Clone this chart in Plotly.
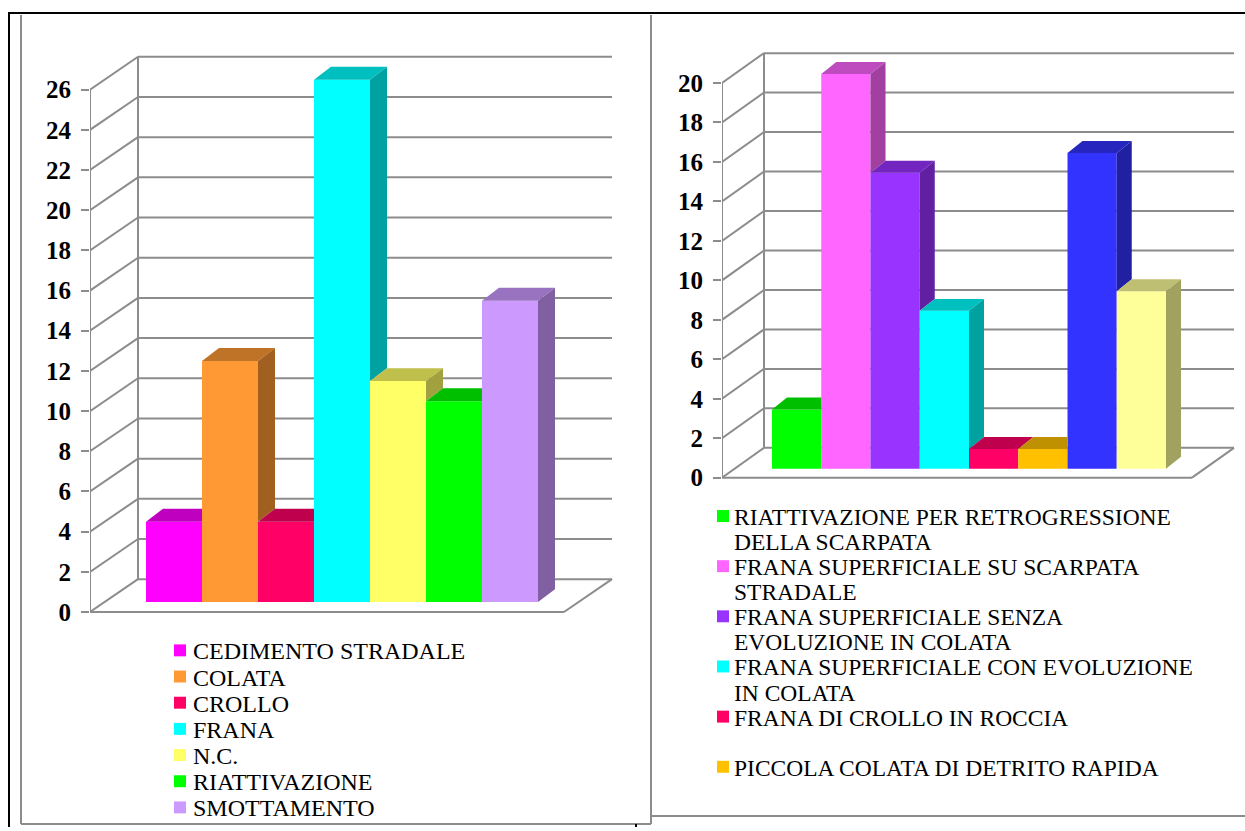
import textwrap
import plotly.graph_objects as go

# ---------------- data ----------------
left_categories = ["CEDIMENTO STRADALE", "COLATA", "CROLLO", "FRANA", "N.C.",
                   "RIATTIVAZIONE", "SMOTTAMENTO"]
left_values = [4, 12, 4, 26, 11, 10, 15]
left_colors = ["#FF00FF", "#FF9933", "#FF0066", "#00FFFF", "#FFFF66", "#00FF00", "#CC99FF"]
left_ticks = [0, 2, 4, 6, 8, 10, 12, 14, 16, 18, 20, 22, 24, 26]

right_categories = ["RIATTIVAZIONE PER RETROGRESSIONE DELLA SCARPATA",
                    "FRANA SUPERFICIALE SU SCARPATA STRADALE",
                    "FRANA SUPERFICIALE SENZA EVOLUZIONE IN COLATA",
                    "FRANA SUPERFICIALE CON EVOLUZIONE IN COLATA",
                    "FRANA DI CROLLO IN ROCCIA",
                    "PICCOLA COLATA DI DETRITO RAPIDA"]
right_values = [3, 20, 15, 8, 1, 1, 16, 9]
right_colors = ["#00FF00", "#FF66FF", "#9933FF", "#00FFFF", "#FF0066", "#FFC000",
                "#3333FF", "#FFFF99"]
right_ticks = [0, 2, 4, 6, 8, 10, 12, 14, 16, 18, 20]

# ---------------- layout constants (pixels) ----------------
W, H = 1245, 831
GRID = "#8C8C8C"
FONT = "Liberation Serif"

left_geo = dict(axis_px=90, zero_py=615, ppu=20.19, bar_left_px=146, bar_w=56,
                lift=10, wall_dx=48, wall_dy=33, bar_dx=17, bar_dy=13,
                floor_right_px=564, dom_x=(90, 645), dom_y=(30, 625))
right_geo = dict(axis_px=722, zero_py=480, ppu=19.83, bar_left_px=772, bar_w=49.25,
                 lift=9, wall_dx=42, wall_dy=30, bar_dx=15, bar_dy=12,
                 floor_right_px=1192, dom_x=(722, 1240), dom_y=(30, 490))


def px(x):
    return x / W


def py(y):
    return 1 - y / H


def shade(hexcol, f):
    h = hexcol.lstrip("#")
    r, g, b = (int(h[i:i + 2], 16) for i in (0, 2, 4))
    return "rgb(%d,%d,%d)" % (round(r * f), round(g * f), round(b * f))


fig = go.Figure()
shapes = []
axes_layout = {}


def build(values, colors, ticks, geo, xname, yname, names):
    shift_x = geo["lift"] * geo["wall_dx"] / geo["wall_dy"]
    X0 = geo["bar_left_px"] - shift_x + geo["bar_w"] / 2

    def xu(p):
        return (p - X0) / geo["bar_w"]

    def yu(p):
        return (geo["zero_py"] - p) / geo["ppu"]

    shift_xu = shift_x / geo["bar_w"]
    lift_u = geo["lift"] / geo["ppu"]
    DXu = geo["wall_dx"] / geo["bar_w"]
    DYu = geo["wall_dy"] / geo["ppu"]
    bdx = geo["bar_dx"] / geo["bar_w"]
    bdy = geo["bar_dy"] / geo["ppu"]
    xa = xu(geo["axis_px"])
    xfr = xu(geo["floor_right_px"])
    top = max(ticks)

    def line(x0, y0, x1, y1):
        shapes.append(dict(type="line", xref=xname, yref=yname, x0=x0, y0=y0, x1=x1, y1=y1,
                           line=dict(color=GRID, width=2), layer="below"))

    for v in ticks:
        line(xa + DXu, v + DYu, xfr + DXu, v + DYu)
        line(xa, v, xa + DXu, v + DYu)
    line(xa + DXu, DYu, xa + DXu, top + DYu)
    line(xa, 0, xa, top)
    line(xa, 0, xfr, 0)
    line(xfr, 0, xfr + DXu, DYu)

    n = len(values)
    hover = [names[i] if i < len(names) else "" for i in range(n)]
    fig.add_trace(go.Bar(x=list(range(n)), y=values, base=lift_u, width=1,
                         offset=-0.5 + shift_xu, marker=dict(color=colors, line=dict(width=0)),
                         hovertext=hover, hoverinfo="text+y", showlegend=False,
                         xaxis=xname, yaxis=yname))
    for i in range(n):
        xl = i - 0.5 + shift_xu
        xr = xl + 1
        v = values[i] + lift_u
        vn = values[i + 1] + lift_u if i < n - 1 else lift_u
        if vn > v:
            if vn >= v + bdy:
                tx = [xl, xr, xr, xl + bdx, xl]
                ty = [v, v, v + bdy, v + bdy, v]
            else:
                xm = xr + bdx * (vn - v) / bdy
                tx = [xl, xr, xr, xm, xr + bdx, xl + bdx, xl]
                ty = [v, v, vn, vn, v + bdy, v + bdy, v]
        else:
            tx = [xl, xr, xr + bdx, xl + bdx, xl]
            ty = [v, v, v + bdy, v + bdy, v]
        fig.add_trace(go.Scatter(x=tx, y=ty, mode="lines", fill="toself",
                                 fillcolor=shade(colors[i], 0.75), line=dict(width=0),
                                 hoverinfo="skip", showlegend=False,
                                 xaxis=xname, yaxis=yname))
        if vn < v:
            sx = [xr, xr, xr + bdx, xr + bdx, xr]
            sy = [vn, v, v + bdy, vn + bdy, vn]
            fig.add_trace(go.Scatter(x=sx, y=sy, mode="lines", fill="toself",
                                     fillcolor=shade(colors[i], 0.63), line=dict(width=0),
                                     hoverinfo="skip", showlegend=False,
                                     xaxis=xname, yaxis=yname))

    xkey = "xaxis" if xname == "x" else "xaxis" + xname[1:]
    ykey = "yaxis" if yname == "y" else "yaxis" + yname[1:]
    axes_layout[xkey] = dict(domain=[px(geo["dom_x"][0]), px(geo["dom_x"][1])],
                             range=[xu(geo["dom_x"][0]), xu(geo["dom_x"][1])],
                             visible=False, anchor=yname, fixedrange=True)
    axes_layout[ykey] = dict(domain=[py(geo["dom_y"][1]), py(geo["dom_y"][0])],
                             range=[yu(geo["dom_y"][1]), yu(geo["dom_y"][0])],
                             anchor=xname, tickvals=ticks, ticks="outside", ticklen=8,
                             tickwidth=2, tickcolor=GRID, showgrid=False, zeroline=False,
                             showline=False, ticklabelstandoff=5, fixedrange=True,
                             tickfont=dict(family=FONT, size=25, color="black", weight="bold"))


build(left_values, left_colors, left_ticks, left_geo, "x", "y", left_categories)
build(right_values, right_colors, right_ticks, right_geo, "x2", "y2", right_categories)

# ---------------- legends (text annotations + swatches) ----------------
annotations = []


def swatch(x0, yc, color, size=12):
    shapes.append(dict(type="rect", xref="paper", yref="paper",
                       x0=px(x0), x1=px(x0 + size), y0=py(yc + size / 2), y1=py(yc - size / 2),
                       fillcolor=color, line=dict(width=0), layer="above"))


for k, name in enumerate(left_categories):
    yc = 653.5 + k * 26.3
    swatch(174, yc, left_colors[k])
    annotations.append(dict(text=name, x=px(191), y=py(yc + 1), xref="paper", yref="paper",
                            xanchor="left", yanchor="middle", showarrow=False,
                            font=dict(family=FONT, size=24, color="black")))

RIGHT_LINE = 25.2
for k, name in enumerate(right_categories):
    yc = 518.5 + k * 2 * RIGHT_LINE
    swatch(717, yc, right_colors[k])
    for j, part in enumerate(textwrap.wrap(name, width=33)):
        annotations.append(dict(text=part, x=px(732), y=py(yc + 1 + j * RIGHT_LINE),
                                xref="paper", yref="paper", xanchor="left", yanchor="middle",
                                showarrow=False,
                                font=dict(family=FONT, size=23.5, color="black")))

# ---------------- frames ----------------
def pline(x0, y0, x1, y1, color, width):
    shapes.append(dict(type="line", xref="paper", yref="paper", x0=px(x0), y0=py(y0),
                       x1=px(x1), y1=py(y1), line=dict(color=color, width=width), layer="above"))


pline(21, 15, 21, 828, GRID, 2)
pline(21, 828, 651, 828, GRID, 2)
pline(651, 15, 651, 828, GRID, 2)
pline(652, 820, 1245, 820, GRID, 2)
pline(8, 13, 1245, 13, "black", 2)
pline(9, 13, 9, 831, "black", 2)
pline(636, 828, 636, 831, "black", 2)

fig.update_layout(width=W, height=H, margin=dict(l=0, r=0, t=0, b=0),
                  paper_bgcolor="white", plot_bgcolor="rgba(0,0,0,0)",
                  showlegend=False, barmode="overlay", shapes=shapes,
                  annotations=annotations, font=dict(family=FONT), **axes_layout)

fig.write_html("out.html")
